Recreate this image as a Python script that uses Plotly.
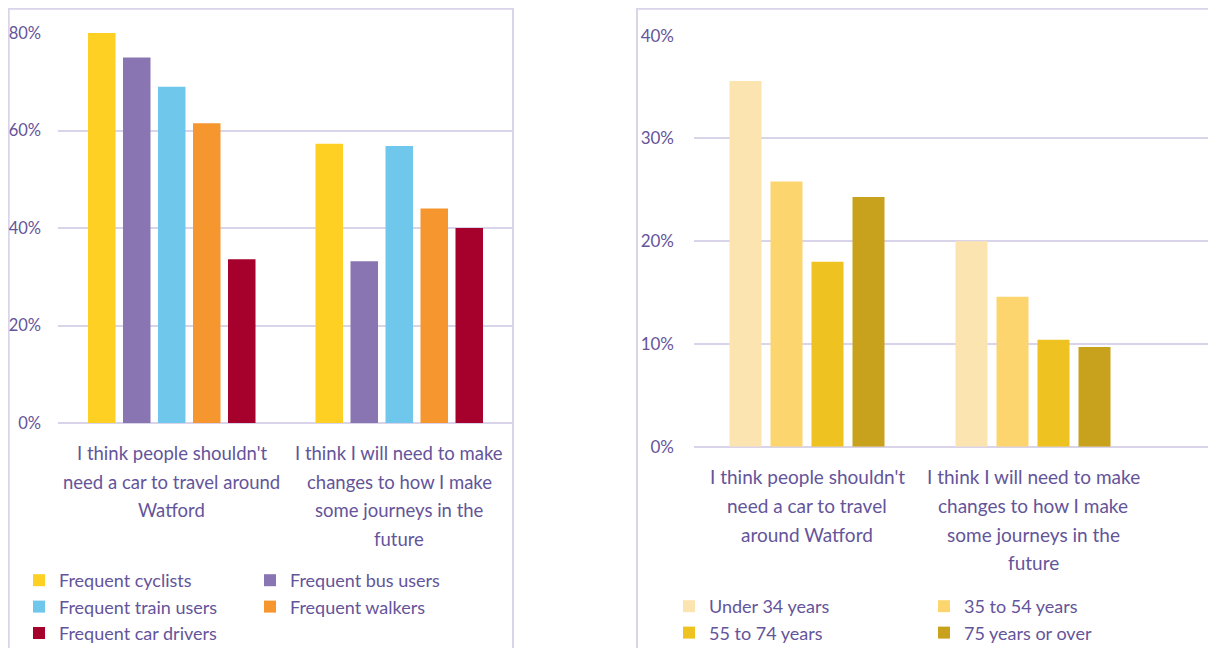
import plotly.graph_objects as go

# ---------------- data ----------------
categories = ["cat_car", "cat_journeys"]
left_tick_lines = [
    ["I think people shouldn't", "need a car to travel around", "Watford"],
    ["I think I will need to make", "changes to how I make", "some journeys in the", "future"],
]
right_tick_lines = [
    ["I think people shouldn't", "need a car to travel", "around Watford"],
    ["I think I will need to make", "changes to how I make", "some journeys in the", "future"],
]

left_series = ["Frequent cyclists", "Frequent bus users", "Frequent train users",
               "Frequent walkers", "Frequent car drivers"]
cyclists = [80.0, 57.3]
bus_users = [75.0, 33.2]
train_users = [69.0, 56.8]
walkers = [61.5, 44.0]
car_drivers = [33.6, 40.0]
left_values = [cyclists, bus_users, train_users, walkers, car_drivers]
left_colors = ["#FDD023", "#8A75B3", "#70C7EC", "#F5962E", "#A6002C"]

right_series = ["Under 34 years", "35 to 54 years", "55 to 74 years", "75 years or over"]
under_34 = [35.6, 20.0]
age_35_54 = [25.8, 14.6]
age_55_74 = [18.0, 10.4]
age_75_plus = [24.3, 9.7]
right_values = [under_34, age_35_54, age_55_74, age_75_plus]
right_colors = ["#FCE4B0", "#FCD56F", "#EEC221", "#C8A21D"]

left_yticks = [0, 20, 40, 60, 80]
left_ytick_labels = ["0%", "20%", "40%", "60%", "80%"]
right_yticks = [0, 10, 20, 30, 40]
right_ytick_labels = ["0%", "10%", "20%", "30%", "40%"]

# ---------------- style ----------------
PAGE_OFF = 8            # default body margin of the html page
W, H = 1216 - PAGE_OFF, 648 - PAGE_OFF
TXT = "#64549A"
GRID = "#DAD4EA"
FONT = "Lato"


def px_x(p):
    """page pixel -> paper fraction"""
    return (p - PAGE_OFF) / W


def px_y(p):
    return 1 - (p - PAGE_OFF) / H


fig = go.Figure()


def add_group(names, values, colors, slot, width, xa, ya, legends):
    n = len(names)
    for i, (nm, v, c) in enumerate(zip(names, values, colors)):
        off = -n * slot / 2 + i * slot + (slot - width) / 2
        fig.add_trace(go.Bar(
            x=categories, y=v, name=nm, marker_color=c, marker_line_width=0,
            offset=off, width=width, xaxis=xa, yaxis=ya,
            legend=legends[i % 2], legendgroup=nm, hoverinfo="skip"))


add_group(left_series, left_values, left_colors, 35 / 227.5, 27.5 / 227.5,
          "x", "y", ["legend", "legend3"])
add_group(right_series, right_values, right_colors, 41 / 226, 32 / 226,
          "x2", "y2", ["legend2", "legend4"])


def legend_box(xpage, ypage, gap):
    return dict(orientation="v", xref="container", yref="container",
                x=px_x(xpage), y=px_y(ypage), xanchor="left", yanchor="top",
                font=dict(size=18, color=TXT, family=FONT), tracegroupgap=gap,
                bgcolor="rgba(0,0,0,0)", traceorder="normal", itemclick=False)


fig.update_layout(
    width=W, height=H, margin=dict(l=0, r=0, t=0, b=0, autoexpand=False),
    paper_bgcolor="white", plot_bgcolor="white",
    barmode="overlay",
    font=dict(family=FONT, color=TXT, size=17),
    xaxis=dict(domain=[px_x(58), px_x(513)], range=[-0.5, 1.5], type="category",
               showticklabels=False, showgrid=False, zeroline=False, showline=False,
               anchor="y"),
    yaxis=dict(domain=[px_y(423), px_y(33)], range=[0, 80],
               tickmode="array", tickvals=left_yticks, ticktext=left_ytick_labels,
               showgrid=True, gridcolor=GRID, gridwidth=1.5,
               zeroline=True, zerolinecolor=GRID, zerolinewidth=2,
               showline=False, ticks="", ticklabelstandoff=16, anchor="x",
               tickfont=dict(size=16.5, color=TXT)),
    xaxis2=dict(domain=[px_x(694), 1.0], range=[-0.5, 1.5 + 70 / 226], type="category",
                showticklabels=False, showgrid=False, zeroline=False, showline=False,
                anchor="y2"),
    yaxis2=dict(domain=[px_y(446.7), px_y(35.7)], range=[0, 40],
                tickmode="array", tickvals=right_yticks, ticktext=right_ytick_labels,
                showgrid=True, gridcolor=GRID, gridwidth=1.5,
                zeroline=True, zerolinecolor=GRID, zerolinewidth=2,
                showline=False, ticks="", ticklabelstandoff=19, anchor="x2",
                tickfont=dict(size=17, color=TXT)),
    legend=legend_box(19, 562, 2),
    legend3=legend_box(250, 562, 2),
    legend2=legend_box(669, 588, 3),
    legend4=legend_box(924, 588, 3),
    showlegend=True,
)

# panel borders
fig.add_shape(type="rect", xref="paper", yref="paper",
              x0=px_x(8.7), x1=px_x(513), y0=px_y(670), y1=px_y(8.7),
              line=dict(color=GRID, width=2), fillcolor="rgba(0,0,0,0)", layer="below")
fig.add_shape(type="rect", xref="paper", yref="paper",
              x0=px_x(637), x1=px_x(1240), y0=px_y(670), y1=px_y(8.7),
              line=dict(color=GRID, width=2), fillcolor="rgba(0,0,0,0)", layer="below")


# category labels (one annotation per wrapped line)
def add_cat_labels(lines_list, xref, yref, size):
    for cat, lines in zip(categories, lines_list):
        for j, line in enumerate(lines):
            fig.add_annotation(x=cat, xref=xref, y=0, yref=yref + " domain",
                               text=line, showarrow=False, xanchor="center",
                               yanchor="middle", yshift=-(30 + 28.7 * j),
                               font=dict(size=size, color=TXT, family=FONT))


add_cat_labels(left_tick_lines, "x", "y", 18.5)
add_cat_labels(right_tick_lines, "x2", "y2", 19)

fig.write_html("out.html")
